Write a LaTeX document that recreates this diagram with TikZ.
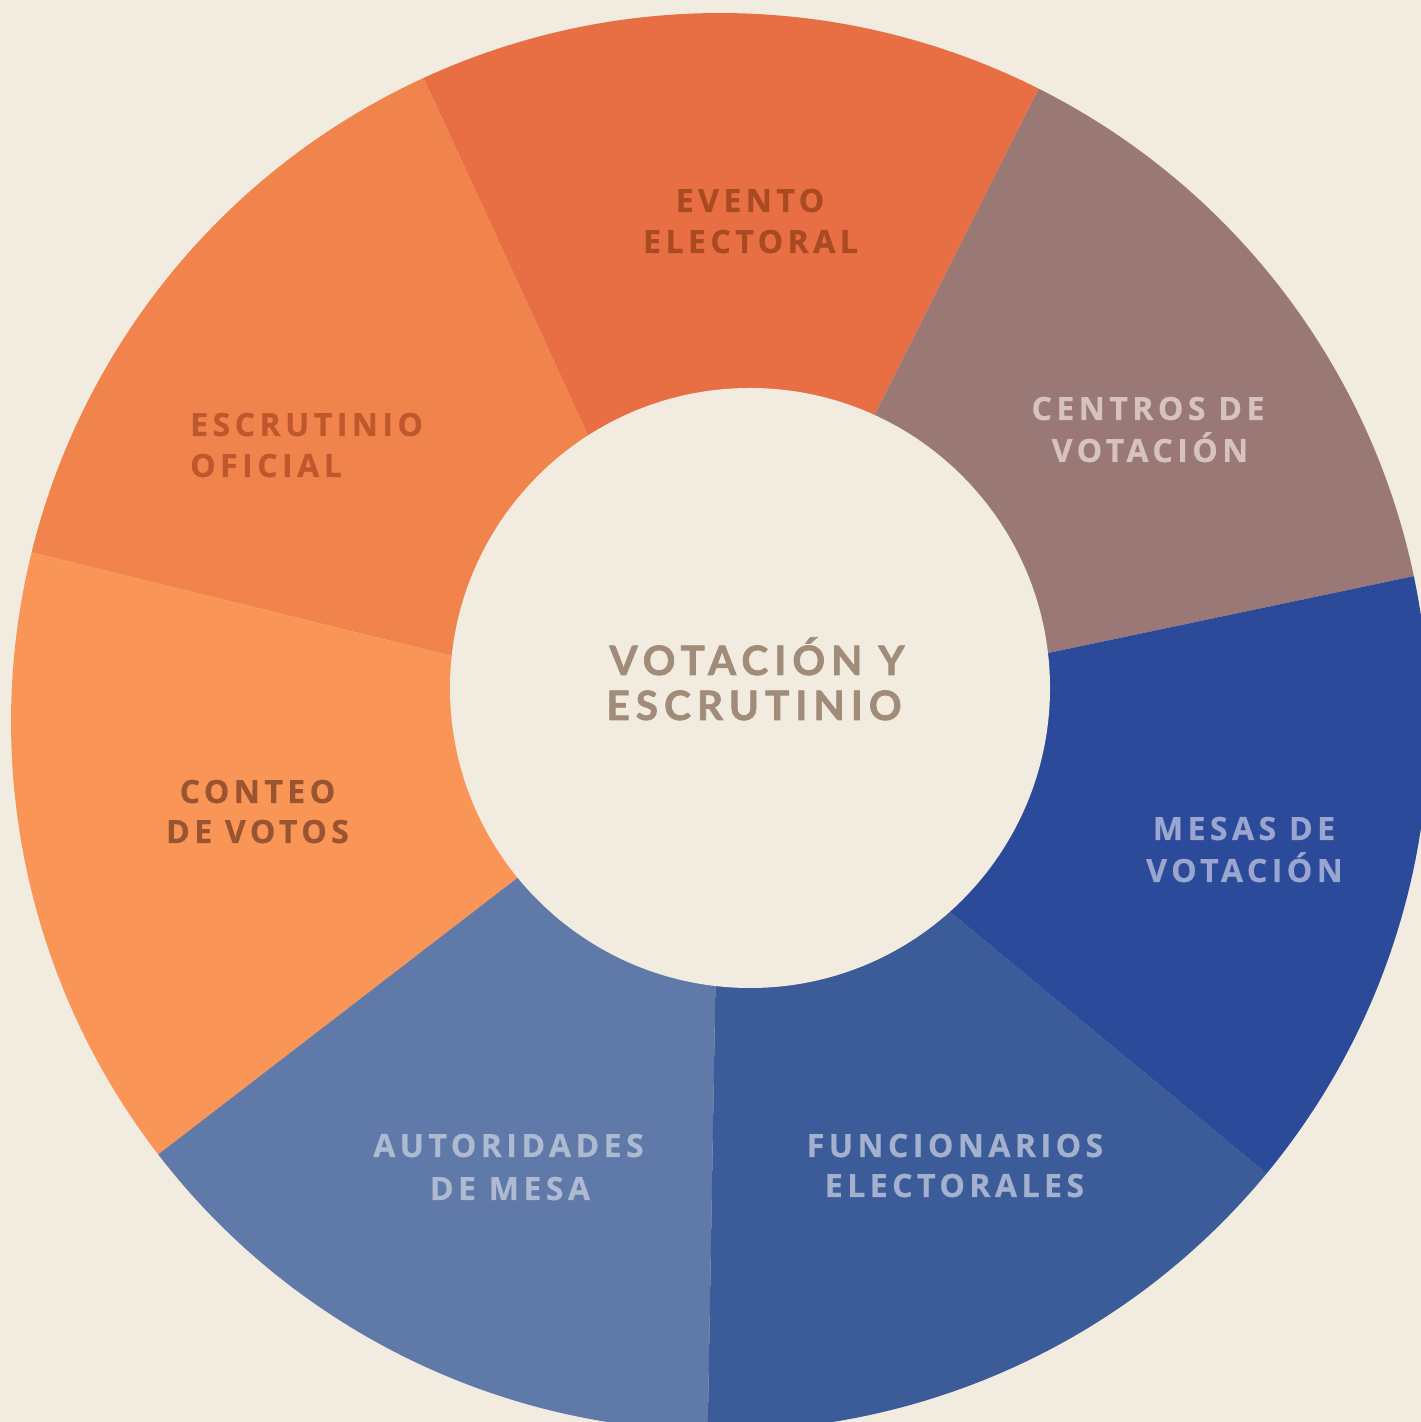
\documentclass[tikz,border=0pt]{standalone}
\usepackage{fontspec}
\newfontfamily\labfont[LetterSpace=14,BoldFeatures={FakeBold=0.6}]{Open Sans}
\newfontfamily\ctrfont[LetterSpace=15,FakeBold=1.6]{Lato Bold}
\definecolor{bgc}{HTML}{F2EBE0}
\definecolor{cEvento}{HTML}{E86F43}
\definecolor{cCentros}{HTML}{9A7875}
\definecolor{cMesas}{HTML}{2C4A9A}
\definecolor{cFunc}{HTML}{3B5C98}
\definecolor{cAutor}{HTML}{5F79A8}
\definecolor{cConteo}{HTML}{F99557}
\definecolor{cEscr}{HTML}{F0844C}
\definecolor{tEvento}{HTML}{A94A22}
\definecolor{tCentros}{HTML}{D6C3C0}
\definecolor{tMesas}{HTML}{9AA6D0}
\definecolor{tFunc}{HTML}{A3B1CE}
\definecolor{tAutor}{HTML}{AEB9D2}
\definecolor{tConteo}{HTML}{9A5530}
\definecolor{tEscr}{HTML}{C0582E}
\definecolor{tCenter}{HTML}{A08C78}
\tikzset{
  lab/.style={font=\labfont\bfseries\fontsize{32}{41}\selectfont, inner sep=0pt, anchor=base},
  ctr/.style={font=\ctrfont\fontsize{40.5}{45}\selectfont, inner sep=0pt, anchor=base, text=tCenter}
}
\newcommand{\seg}[3]{\fill[#1] (O) -- ++(#2:709) arc[start angle=#2, end angle=#3, radius=709] -- cycle;}
\begin{document}
\begin{tikzpicture}[x=1pt,y=1pt]
\useasboundingbox (0,0) rectangle (1421,1422);
\fill[bgc] (0,0) rectangle (1421,1422);
\clip (0,0) rectangle (1421,1422);
\coordinate (O) at (720,700);
\coordinate (I) at (750,734);
\seg{cCentros}{11.87}{63.3}
\seg{cEvento}{63.3}{114.73}
\seg{cEscr}{114.73}{166.16}
\seg{cConteo}{166.16}{217.59}
\seg{cAutor}{217.59}{269.01}
\seg{cFunc}{269.01}{320.44}
\seg{cMesas}{320.44}{371.87}
\fill[bgc] (I) circle[radius=300];
% labels
\node[lab, text=tEvento] (ev1) at (750,1210) {EVENTO};
\node[lab, text=tEvento] (ev2) at (750.5,1169) {ELECTORAL};
\node[lab, text=tCentros] (ce1) at (1148,1002) {CENTROS DE};
\node[lab, text=tCentros] (ce2) at (1150,960) {VOTACIÓN};
\node[lab, text=tMesas] (me1) at (1244,582) {MESAS DE};
\node[lab, text=tMesas] (me2) at (1244.5,540) {VOTACIÓN};
\node[lab, text=tFunc] (fu1) at (955,265) {FUNCIONARIOS};
\node[lab, text=tFunc] (fu2) at (954.5,225) {ELECTORALES};
\node[lab, text=tAutor] (au1) at (508.5,265) {AUTORIDADES};
\node[lab, text=tAutor] (au2) at (510,222) {DE MESA};
\node[lab, text=tConteo] (co1) at (257.5,619) {CONTEO};
\node[lab, text=tConteo] (co2) at (257.5,579) {DE VOTOS};
\node[lab, text=tEscr, anchor=base west] (es1) at (190,986) {ESCRUTINIO};
\node[lab, text=tEscr, anchor=base west] (es2) at (190,945) {OFICIAL};
\node[ctr] (c1) at (757,747) {VOTACIÓN Y};
\node[ctr] (c2) at (754,702) {ESCRUTINIO};
\end{tikzpicture}
\end{document}
